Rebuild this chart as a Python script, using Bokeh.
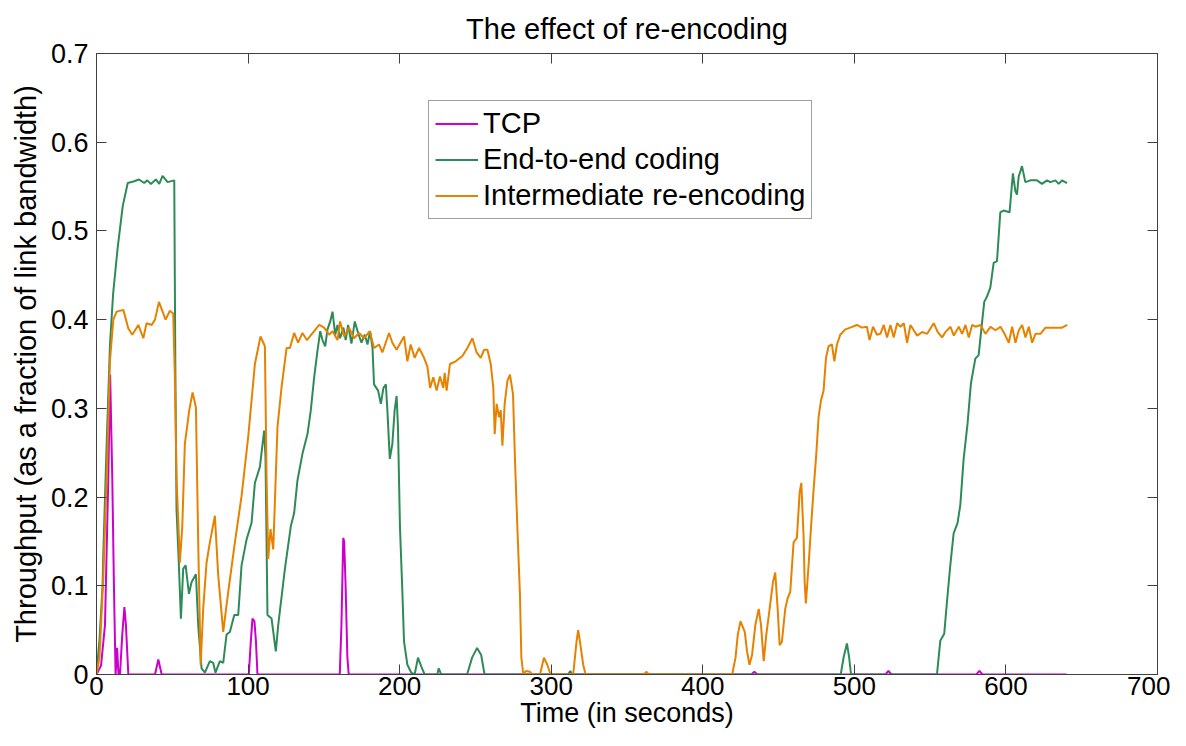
from bokeh.plotting import figure
from bokeh.models import LinearAxis, FixedTicker, Range1d
from bokeh.embed import file_html
from bokeh.resources import INLINE

# ---------------- data ----------------
title_text = "The effect of re-encoding"
x_label = "Time (in seconds)"
y_label = "Throughput (as a fraction of link bandwidth)"

x_ticks = [0, 100, 200, 300, 400, 500, 600, 700]
x_tick_labels = ["0", "100", "200", "300", "400", "500", "600", "700"]
y_ticks = [0, 0.1, 0.2, 0.3, 0.4, 0.5, 0.6, 0.7]
y_tick_labels = ["0", "0.1", "0.2", "0.3", "0.4", "0.5", "0.6", "0.7"]

series_names = ["TCP", "End-to-end coding", "Intermediate re-encoding"]
series_colors = ["#CC00CC", "#2E8B57", "#E68200"]

tcp_t = [0, 3, 5.6, 7.8, 9.0, 10.4, 11.5, 12.6, 13.6, 14.5, 15.5, 17, 18.4, 19.4, 21,
         38.6, 40.8, 43, 100.5, 101.8, 102.9, 104.2, 105.2, 106.2,
         160.5, 161.6, 162.8, 163.4, 164.4, 165.5, 166.4,
         432, 434, 436, 520.5, 522.5, 524.5, 580.5, 582.5, 584.5, 640]
tcp_v = [0, 0.01, 0.056, 0.223, 0.338, 0.223, 0.1, 0, 0.03, 0, 0, 0.045, 0.076, 0.056, 0,
         0, 0.017, 0, 0, 0.037, 0.063, 0.06, 0.037, 0,
         0, 0.056, 0.154, 0.15, 0.097, 0.02, 0,
         0, 0.003, 0, 0, 0.004, 0, 0, 0.004, 0, 0]

e2e_t = [0, 2, 4, 4.5, 6.7, 8.9, 11, 13.9, 17.3, 20.6, 24.9, 28, 31.5, 33.5, 35.9, 39.2,
         41.4, 43.6, 46.9, 51.3, 52, 52.8, 54.2, 55.7, 57.2, 58.8, 61, 62.7, 65.6, 67.1,
         69.3, 71.5, 74.8, 77, 78.5, 81.4, 83.6, 85.8, 88, 90.9, 93.5, 95.7, 99, 102.3,
         104.5, 107.8, 110.6, 111.5, 112.8, 115.5, 118.3, 119.9, 124.3, 128.2, 130.4,
         132.6, 135.9, 139.2, 141.4, 143.6, 145.8, 147.6, 149.1, 150.9, 152.4, 154.2,
         155.7, 157.5, 159, 160.7, 162.9, 164.4, 166, 168.2, 170.4, 172.6, 174.8, 177,
         178.8, 180.5, 182.1, 183.1, 185.8, 187.6, 189.3, 190.9, 191.9, 193.5, 195.2,
         196.7, 198, 198.9, 200.2, 201.8, 202.9, 205.1, 207.7, 209.9, 212.1, 214.3,
         216.5, 224.8, 225.8, 227.4, 244.5, 247.8, 251.1, 253.8, 256, 311, 312.6, 314,
         491, 493, 495.1, 496.5, 497.8, 554.5, 556.7, 559.3, 561.1, 563.3, 565.5,
         568.1, 569.9, 572.1, 574.7, 576.9, 579.8, 582, 584.2, 585.7, 587.5, 589.7,
         591.9, 594.1, 596.3, 598.5, 602.4, 604.6, 606.2, 607.3, 608.4, 610.6, 612.8,
         616.1, 620.5, 623.8, 627.1, 629.3, 632.6, 634.8, 637, 640.3]
e2e_v = [0, 0.04, 0.1, 0.137, 0.26, 0.372, 0.43, 0.48, 0.528, 0.554, 0.556, 0.558, 0.554,
         0.557, 0.553, 0.558, 0.553, 0.562, 0.555, 0.557, 0.35, 0.186, 0.13, 0.063,
         0.119, 0.123, 0.091, 0.104, 0.113, 0.056, 0.007, 0.002, 0.015, 0.013, 0.002,
         0.015, 0.013, 0.045, 0.048, 0.067, 0.067, 0.123, 0.152, 0.171, 0.216, 0.234,
         0.275, 0.245, 0.067, 0.063, 0.026, 0.056, 0.119, 0.167, 0.182, 0.219, 0.249,
         0.271, 0.298, 0.335, 0.365, 0.387, 0.377, 0.37, 0.389, 0.398, 0.409, 0.383,
         0.394, 0.379, 0.391, 0.377, 0.394, 0.373, 0.398, 0.385, 0.374, 0.383, 0.372,
         0.387, 0.368, 0.327, 0.32, 0.305, 0.323, 0.327, 0.298, 0.243, 0.26, 0.298,
         0.314, 0.279, 0.167, 0.093, 0.037, 0.011, 0.002, 0, 0.019, 0.009, 0, 0, 0.007,
         0, 0, 0.019, 0.03, 0.022, 0, 0, 0.004, 0, 0, 0.02, 0.035, 0.02, 0, 0, 0.038,
         0.046, 0.082, 0.123, 0.159, 0.171, 0.191, 0.243, 0.283, 0.328, 0.356, 0.36,
         0.396, 0.42, 0.426, 0.436, 0.464, 0.466, 0.521, 0.523, 0.521, 0.565, 0.545,
         0.541, 0.561, 0.573, 0.555, 0.557, 0.557, 0.553, 0.557, 0.555, 0.557, 0.553,
         0.557, 0.554]

inter_t = [0, 2, 4.5, 6.7, 8.9, 11.1, 13.3, 17.7, 21, 23.6, 27.6, 30.9, 33, 36.4, 38.6,
           41.2, 45.6, 48.4, 50.6, 51.7, 52.8, 55, 56.6, 58.3, 61.2, 63.4, 65.6, 67.1,
           68.7, 70.4, 72.6, 74.8, 78.1, 80.3, 83.6, 86.9, 91.3, 95.7, 100.1, 104.5,
           108.2, 111.1, 112.2, 113.3, 114.8, 116.6, 119.4, 122.1, 125.4, 127.6, 130.4,
           133, 135.9, 138.8, 143.6, 146.9, 150.2, 153.5, 155.7, 159, 160.7, 163.4,
           166.6, 169.9, 173.3, 176.5, 180.3, 183.1, 186.4, 188.6, 193, 195.2, 198,
           202.9, 205.1, 207.3, 209.9, 212.8, 216.1, 218.3, 220.1, 222.2, 224.4, 226.6,
           228.8, 229.7, 231, 233.2, 237, 241.4, 244.7, 248, 250.8, 253.5, 255.7, 257.9,
           260.1, 261.8, 262.7, 264, 265.6, 266.7, 267.8, 269.3, 271.1, 272.8, 274.8,
           276.1, 277.7, 279.4, 280.3, 281.6, 283.2, 286, 287.6, 292.6, 295.2, 297.4,
           299.6, 314.5, 316.7, 317.8, 319.3, 321.1, 322.7, 361.1, 362.9, 364.4, 419.4,
           421.6, 423.1, 424.9, 427.7, 429.2, 430.8, 432.5, 434.7, 436.9, 438.4, 440.2,
           441.9, 444.1, 446.3, 447.8, 449.4, 450.7, 452.2, 454.4, 456, 457.7, 459.9,
           462.1, 463.9, 465, 466.5, 467.2, 468, 469.8, 471.6, 473.1, 474.9, 476.4, 478,
           479.7, 481.3, 483, 485.2, 486.8, 488.5, 490.7, 494, 497.3, 501.7, 505, 508.3,
           510, 512.3, 514.9, 517.2, 519.4, 521.6, 523.8, 526, 528.2, 530.4, 532.6,
           534.8, 537, 539.2, 541.4, 544.7, 548, 552.4, 555, 557.9, 560.1, 563.4, 565.6,
           568.9, 571.1, 573.3, 575.5, 577.7, 579.9, 583.2, 586.5, 589.8, 593.1, 596.4,
           599.1, 601.9, 604.1, 606.3, 608.5, 610.7, 612.9, 615.1, 617.3, 619.5, 622.8,
           626.1, 631.6, 637.1, 640.4]
inter_v = [0, 0.02, 0.11, 0.22, 0.354, 0.4, 0.409, 0.411, 0.39, 0.383, 0.394, 0.379,
           0.396, 0.394, 0.4, 0.42, 0.4, 0.41, 0.407, 0.335, 0.223, 0.126, 0.167, 0.26,
           0.298, 0.318, 0.301, 0.149, 0.011, 0.074, 0.126, 0.149, 0.179, 0.112, 0.048,
           0.093, 0.149, 0.201, 0.268, 0.35, 0.381, 0.37, 0.223, 0.13, 0.164, 0.141,
           0.279, 0.324, 0.368, 0.368, 0.385, 0.374, 0.385, 0.377, 0.387, 0.394, 0.391,
           0.383, 0.387, 0.377, 0.398, 0.381, 0.391, 0.379, 0.385, 0.379, 0.387, 0.368,
           0.372, 0.363, 0.385, 0.374, 0.366, 0.381, 0.353, 0.372, 0.357, 0.368, 0.357,
           0.347, 0.323, 0.335, 0.32, 0.336, 0.323, 0.34, 0.32, 0.35, 0.353, 0.359,
           0.368, 0.379, 0.363, 0.357, 0.366, 0.366, 0.35, 0.323, 0.271, 0.305, 0.29,
           0.298, 0.258, 0.305, 0.331, 0.338, 0.316, 0.242, 0.164, 0.089, 0.019, 0,
           0.004, 0.003, 0, 0, 0.019, 0.011, 0, 0, 0.037, 0.05, 0.033, 0.011, 0, 0,
           0.003, 0, 0, 0.019, 0.045, 0.06, 0.048, 0.026, 0.011, 0.022, 0.056, 0.074,
           0.056, 0.015, 0.045, 0.074, 0.104, 0.115, 0.074, 0.033, 0.037, 0.074, 0.086,
           0.093, 0.149, 0.154, 0.205, 0.216, 0.156, 0.104, 0.08, 0.123, 0.171, 0.208,
           0.249, 0.29, 0.309, 0.32, 0.357, 0.37, 0.372, 0.353, 0.372, 0.383, 0.389,
           0.391, 0.394, 0.391, 0.392, 0.377, 0.392, 0.383, 0.384, 0.394, 0.38, 0.394,
           0.38, 0.396, 0.392, 0.396, 0.374, 0.394, 0.388, 0.382, 0.386, 0.384, 0.396,
           0.386, 0.38, 0.386, 0.392, 0.382, 0.392, 0.384, 0.394, 0.38, 0.394, 0.392,
           0.394, 0.384, 0.392, 0.388, 0.392, 0.384, 0.374, 0.392, 0.374, 0.388, 0.394,
           0.38, 0.392, 0.374, 0.384, 0.384, 0.391, 0.391, 0.391, 0.394]

# ---------------- figure ----------------
FONT = "Liberation Sans"
AX_COLOR = "#404040"

p = figure(width=1170, height=730,
           x_range=Range1d(0, 700), y_range=Range1d(0, 0.7),
           output_backend="svg", toolbar_location=None,
           title=title_text,
           min_border_left=96, min_border_right=13,
           min_border_top=53, min_border_bottom=50)

p.background_fill_color = "white"
p.border_fill_color = "white"
p.outline_line_color = AX_COLOR
p.outline_line_width = 1
p.xgrid.visible = False
p.ygrid.visible = False

p.title.align = "center"
p.title.vertical_align = "bottom"
p.title.text_font = FONT
p.title.text_font_size = "29px"
p.title.text_font_style = "normal"
p.title.text_color = "black"
p.title.standoff = 18

def style_axis(ax, ticks, labels, show_labels=True):
    ax.ticker = FixedTicker(ticks=ticks)
    ax.major_label_overrides = {t: l for t, l in zip(ticks, labels)}
    ax.major_tick_in = 10
    ax.major_tick_out = 0
    ax.minor_tick_in = 0
    ax.minor_tick_out = 0
    ax.axis_line_color = AX_COLOR
    ax.major_tick_line_color = AX_COLOR
    ax.major_label_text_font = FONT
    if show_labels:
        ax.major_label_text_font_size = "27px"
        ax.major_label_text_color = "black"
        ax.major_label_standoff = 6
    else:
        ax.major_label_text_font_size = "0px"
        ax.major_label_text_color = None
        ax.major_label_standoff = 0
    ax.axis_label_text_font = FONT
    ax.axis_label_text_font_style = "normal"
    ax.axis_label_text_color = "black"

style_axis(p.xaxis[0], x_ticks, x_tick_labels)
style_axis(p.yaxis[0], y_ticks, y_tick_labels)
p.xaxis[0].axis_label = x_label
p.xaxis[0].major_label_text_font_size = "26px"
p.xaxis[0].axis_label_text_font_size = "27px"
p.xaxis[0].axis_label_standoff = 0
p.xaxis[0].major_label_standoff = 2
p.yaxis[0].axis_label = y_label
p.yaxis[0].axis_label_text_font_size = "29px"
p.yaxis[0].axis_label_standoff = 6
p.yaxis[0].major_label_standoff = 8

top_axis = LinearAxis()
style_axis(top_axis, x_ticks, x_tick_labels, show_labels=False)
p.add_layout(top_axis, "above")
right_axis = LinearAxis()
style_axis(right_axis, y_ticks, y_tick_labels, show_labels=False)
p.add_layout(right_axis, "right")

series = [(tcp_t, tcp_v), (e2e_t, e2e_v), (inter_t, inter_v)]
for (tx, vy), name, col in zip(series, series_names, series_colors):
    p.line(tx, vy, line_color=col, line_width=2, legend_label=name)

lg = p.legend[0]
lg.location = (332, 455)
lg.label_text_font = FONT
lg.label_text_font_size = "29px"
lg.label_text_color = "black"
lg.border_line_color = AX_COLOR
lg.border_line_width = 1
lg.background_fill_color = "white"
lg.background_fill_alpha = 1
lg.padding = 6
lg.spacing = 3
lg.margin = 0
lg.glyph_width = 43
lg.glyph_height = 31
lg.label_height = 31
lg.label_standoff = 5

open("out.html", "w").write(file_html(p, INLINE))
